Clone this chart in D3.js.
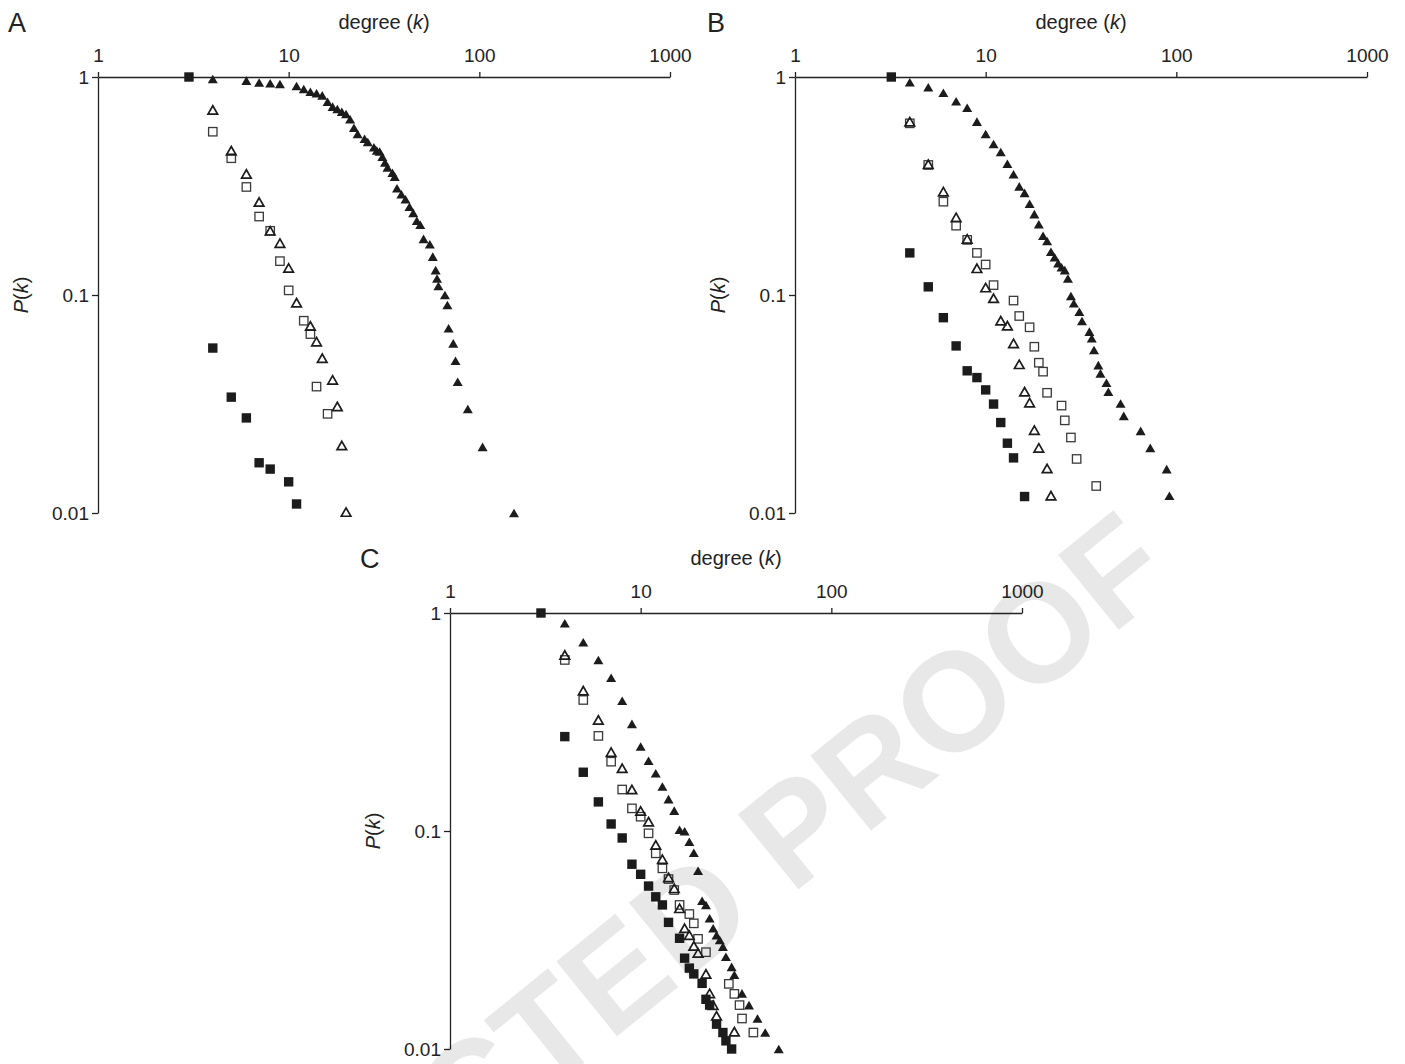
<!DOCTYPE html>
<html>
<head>
<meta charset="utf-8">
<script src="https://cdn.jsdelivr.net/npm/d3@7/dist/d3.min.js"></script>
<style>
  body { margin: 0; background: #fff; }
  svg text { font-family: "Liberation Sans", Arial, Helvetica, sans-serif; }
</style>
</head>
<body>
<svg id="chart" width="1405" height="1064"></svg>
<script>
// ---- Degree distributions P(k), one array of [k, P(k)] pairs per series ----

// Panel A
const aFilledSquares = [[3,1],[4,0.0571],[5,0.034],[6,0.0273],[7,0.017],[8,0.0159],[10,0.0139],[11,0.011]];
const aOpenSquares = [[4,0.561],[5,0.424],[6,0.313],[7,0.229],[8,0.197],[9,0.143],[10,0.105],[12,0.0762],[13,0.0662],[14,0.038],[16,0.0285]];
const aOpenTriangles = [[4,0.706],[5,0.459],[6,0.359],[7,0.267],[8,0.197],[9,0.173],[10,0.133],[11,0.0922],[13,0.0721],[14,0.0611],[15,0.0513],[17,0.0408],[18,0.0308],[19,0.0204],[20,0.0101]];
const aFilledTriangles = [[4,0.979],[6,0.962],[7,0.944],[8,0.936],[9,0.929],[11,0.909],[12,0.881],[13,0.856],[14,0.842],[15,0.824],[16,0.77],[17,0.731],[18,0.713],[19,0.693],[20,0.677],[21,0.64],[22,0.585],[23,0.548],[25,0.521],[26,0.503],[28,0.476],[29,0.46],[30,0.455],[31,0.431],[32,0.405],[33,0.385],[35,0.364],[36,0.349],[37,0.309],[39,0.29],[41,0.275],[43,0.254],[45,0.238],[47,0.219],[49,0.21],[51,0.181],[55,0.171],[57,0.15],[59,0.13],[60,0.119],[61,0.11],[66,0.1],[68,0.09],[69,0.0704],[73,0.06],[75,0.0499],[77,0.04],[87,0.03],[104,0.0201],[152,0.01]];

// Panel B
const bFilledSquares = [[3.2,1],[4,0.156],[5,0.109],[6,0.0787],[7,0.0584],[8,0.0449],[9,0.0418],[10,0.0367],[11,0.0316],[12,0.026],[13,0.0209],[14,0.0179],[16,0.0119]];
const bOpenSquares = [[4,0.613],[5,0.395],[6,0.268],[7,0.208],[8,0.179],[9,0.156],[10,0.138],[11,0.111],[14,0.0943],[15,0.0801],[17,0.0711],[18,0.0579],[19,0.0489],[20,0.0445],[21,0.0356],[25,0.0311],[26,0.0266],[28,0.0222],[30,0.0177],[38,0.0133]];
const bOpenTriangles = [[4,0.624],[5,0.398],[6,0.298],[7,0.227],[8,0.181],[9,0.1326],[10,0.1082],[11,0.0966],[12,0.0762],[13,0.0723],[14,0.06],[15,0.0481],[16,0.036],[17,0.0321],[18,0.024],[19,0.0199],[21,0.016],[22,0.012]];
const bFilledTriangles = [[4,0.946],[5,0.897],[6,0.847],[7,0.774],[8,0.723],[9,0.624],[10,0.548],[11,0.493],[12,0.453],[13,0.4],[14,0.358],[15,0.315],[16,0.294],[17,0.262],[18,0.235],[19,0.211],[20,0.187],[21,0.177],[22,0.158],[23,0.149],[24,0.14],[25,0.134],[26,0.13],[27,0.119],[28,0.0989],[29,0.0916],[31,0.0838],[32,0.076],[35,0.0679],[36,0.0633],[37,0.0559],[39,0.0477],[40,0.0437],[43,0.0396],[44,0.036],[51,0.0318],[53,0.0279],[65,0.0238],[73,0.0199],[89,0.0159],[92,0.012]];

// Panel C
const cFilledSquares = [[3,1],[4,0.271],[5,0.186],[6,0.136],[7,0.1077],[8,0.0929],[9,0.0704],[10,0.0633],[11,0.0559],[12,0.0499],[13,0.0458],[14,0.0381],[16,0.0322],[17,0.0261],[18,0.0235],[19,0.0221],[21,0.02],[22,0.0169],[23,0.0159],[25,0.013],[27,0.0119],[28,0.0109],[30,0.01]];
const cOpenSquares = [[4,0.609],[5,0.399],[6,0.273],[7,0.208],[8,0.155],[9,0.127],[10,0.1163],[11,0.0976],[12,0.079],[13,0.0674],[14,0.0602],[15,0.0536],[16,0.0458],[18,0.0416],[19,0.0377],[20,0.032],[22,0.0278],[29,0.0199],[31,0.0179],[33,0.0159],[34,0.0138],[39,0.0119]];
const cOpenTriangles = [[4,0.642],[5,0.44],[6,0.323],[7,0.23],[8,0.194],[9,0.155],[10,0.1235],[11,0.1103],[12,0.0863],[13,0.0742],[14,0.0613],[15,0.0546],[16,0.0442],[17,0.0358],[18,0.0333],[19,0.0297],[20,0.0276],[22,0.0221],[23,0.018],[24,0.0159],[25,0.0142],[31,0.012]];
const cFilledTriangles = [[4,0.897],[5,0.734],[6,0.609],[7,0.505],[8,0.396],[9,0.31],[10,0.244],[11,0.21],[12,0.184],[13,0.16],[14,0.14],[15,0.124],[16,0.1014],[17,0.0998],[18,0.0893],[19,0.0795],[20,0.0657],[21,0.0479],[22,0.0458],[23,0.0398],[24,0.0358],[25,0.0333],[26,0.0316],[27,0.0295],[28,0.0265],[30,0.0238],[31,0.0219],[34,0.018],[37,0.0159],[41,0.0138],[45,0.0119],[53,0.01]];

// Axis ticks and labels
const xTickValues = [1, 10, 100, 1000];
const yTickValues = [1, 0.1, 0.01];
const panelLetters = ["A", "B", "C"];
const xTitle = "degree";
const watermarkText = "UNCORRECTED PROOF";

// ---- Layout ----
const plotW = 572, plotH = 436;
const panels = [
  { letter: panelLetters[0], left: 98,  top: 77,  series: [aOpenSquares, aOpenTriangles, aFilledSquares, aFilledTriangles], letterPos: [8, 32] },
  { letter: panelLetters[1], left: 795, top: 77,  series: [bOpenSquares, bOpenTriangles, bFilledSquares, bFilledTriangles], letterPos: [707, 32] },
  { letter: panelLetters[2], left: 450, top: 613, series: [cOpenSquares, cOpenTriangles, cFilledSquares, cFilledTriangles], letterPos: [360, 568] }
];
const markerKinds = ["openSquare", "openTriangle", "filledSquare", "filledTriangle"];

const svg = d3.select("#chart");

// Background watermark
svg.append("text")
  .text(watermarkText)
  .attr("transform", "translate(1178,582) rotate(-39)")
  .attr("text-anchor", "end")
  .attr("font-size", 140)
  .attr("font-weight", "bold")
  .attr("fill", "#e8e8e8");

function trianglePath(cx, cy, w, h) {
  return `M${cx},${cy - h / 2}L${cx + w / 2},${cy + h / 2}L${cx - w / 2},${cy + h / 2}Z`;
}

panels.forEach(p => {
  const x = d3.scaleLog().domain([1, 1000]).range([0, plotW]);
  const y = d3.scaleLog().domain([1, 0.01]).range([0, plotH]);
  const g = svg.append("g").attr("transform", `translate(${p.left},${p.top})`);

  // x axis along the top
  const xAxis = d3.axisTop(x).tickValues(xTickValues).tickFormat(d3.format("d"))
    .tickSize(5).tickSizeOuter(0).tickPadding(10);
  const gx = g.append("g").call(xAxis);
  // y axis on the left
  const yAxis = d3.axisLeft(y).tickValues(yTickValues).tickFormat(d => String(d))
    .tickSize(6).tickSizeOuter(0).tickPadding(3);
  const gy = g.append("g").call(yAxis);

  [gx, gy].forEach(a => {
    a.select(".domain").attr("stroke", "#222").attr("stroke-width", 1.3);
    a.selectAll(".tick line").attr("stroke", "#222").attr("stroke-width", 1.3);
    a.selectAll(".tick text").attr("font-size", 19).attr("fill", "#222")
      .attr("font-family", '"Liberation Sans", Arial, sans-serif');
  });

  // axis titles
  const xt = g.append("text")
    .attr("x", plotW / 2).attr("y", -48)
    .attr("text-anchor", "middle").attr("font-size", 20).attr("fill", "#222");
  xt.append("tspan").text(xTitle + " (");
  xt.append("tspan").attr("font-style", "italic").text("k");
  xt.append("tspan").text(")");

  const yt = g.append("text")
    .attr("transform", `translate(-70,${plotH / 2}) rotate(-90)`)
    .attr("text-anchor", "middle").attr("font-size", 20).attr("fill", "#222");
  yt.append("tspan").attr("font-style", "italic").text("P");
  yt.append("tspan").text("(");
  yt.append("tspan").attr("font-style", "italic").text("k");
  yt.append("tspan").text(")");

  // panel letter
  svg.append("text").attr("x", p.letterPos[0]).attr("y", p.letterPos[1])
    .attr("font-size", 27).attr("fill", "#222").text(p.letter);

  // markers
  p.series.forEach((data, si) => {
    const kind = markerKinds[si];
    const layer = g.append("g");
    if (kind === "openSquare" || kind === "filledSquare") {
      const s = kind === "openSquare" ? 8.4 : 9.4;
      layer.selectAll("rect").data(data).join("rect")
        .attr("x", d => x(d[0]) - s / 2).attr("y", d => y(d[1]) - s / 2)
        .attr("width", s).attr("height", s)
        .attr("fill", kind === "filledSquare" ? "#1c1c1c" : "none")
        .attr("stroke", kind === "filledSquare" ? "none" : "#3a3a3a")
        .attr("stroke-width", 1.3);
    } else {
      const open = kind === "openTriangle";
      layer.selectAll("path").data(data).join("path")
        .attr("d", d => open ? trianglePath(x(d[0]), y(d[1]), 9.6, 8.4) : trianglePath(x(d[0]), y(d[1]), 10, 8.6))
        .attr("fill", open ? "none" : "#1c1c1c")
        .attr("stroke", open ? "#1c1c1c" : "none")
        .attr("stroke-width", 1.7)
        .attr("stroke-linejoin", "miter");
    }
  });
});
</script>
</body>
</html>
